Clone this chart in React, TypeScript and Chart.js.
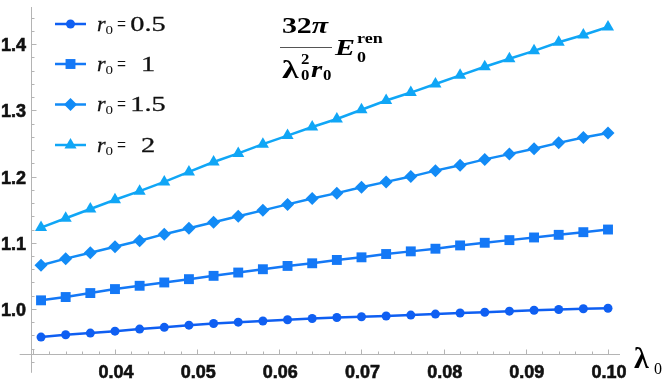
import React, { useEffect, useRef } from 'react';
import { Chart, registerables } from 'chart.js';
import { drawPoint } from 'chart.js/helpers';

Chart.register(...registerables);

// ---- data ----
const lambda0 = [
  0.031, 0.034, 0.037, 0.040, 0.043, 0.046, 0.049, 0.052, 0.055, 0.058, 0.061, 0.064,
  0.067, 0.070, 0.073, 0.076, 0.079, 0.082, 0.085, 0.088, 0.091, 0.094, 0.097, 0.100,
];
const r0_05 = [
  0.9575, 0.9610, 0.9635, 0.9664, 0.9695, 0.9722, 0.9755, 0.9780, 0.9800, 0.9818, 0.9837, 0.9855,
  0.9870, 0.9882, 0.9893, 0.9907, 0.9922, 0.9938, 0.9950, 0.9966, 0.9980, 0.9992, 1.0002, 1.0010,
];
const r0_1 = [
  1.013, 1.018, 1.024, 1.030, 1.035, 1.040, 1.045, 1.050, 1.055, 1.060, 1.065, 1.069,
  1.074, 1.078, 1.083, 1.087, 1.091, 1.096, 1.100, 1.104, 1.108, 1.112, 1.116, 1.120,
];
const r0_15 = [
  1.066, 1.076, 1.085, 1.094, 1.103, 1.113, 1.122, 1.131, 1.140, 1.149, 1.158, 1.167,
  1.175, 1.184, 1.192, 1.200, 1.209, 1.217, 1.226, 1.234, 1.242, 1.251, 1.259, 1.266,
];
const r0_2 = [
  1.123, 1.137, 1.151, 1.165, 1.178, 1.192, 1.207, 1.222, 1.235, 1.249, 1.262, 1.275,
  1.287, 1.301, 1.315, 1.327, 1.340, 1.353, 1.366, 1.378, 1.390, 1.403, 1.414, 1.426,
];
const seriesValues = ['0.5', '1', '1.5', '2'];
const xTickValues = [0.04, 0.05, 0.06, 0.07, 0.08, 0.09, 0.10];
const xTickLabels = ['0.04', '0.05', '0.06', '0.07', '0.08', '0.09', '0.10'];
const yTickValues = [1.0, 1.1, 1.2, 1.3, 1.4];
const yTickLabels = ['1.0', '1.1', '1.2', '1.3', '1.4'];

// ---- styles ----
const COLORS = ['#0f5ff2', '#1478f6', '#128bf6', '#10a6f6'];
const POINT_STYLES = ['circle', 'rect', 'rectRot', 'triangle'];
const POINT_RADII = [4.5, 7, 6.5, 7];
const AXIS_COLOR = '#b4b4b4';
const TICK_FONT = 'bold 18px "Liberation Sans", Arial, sans-serif';
const SERIF = '"Liberation Serif", "Times New Roman", serif';

const X_MIN = 0.02978, X_MAX = 0.10146;
const Y_MIN = 0.9319, Y_MAX = 1.4563;
const X_AXIS_FROM = 0.0284;
const Y_AXIS_FROM = 0.9035;

function txt(ctx: CanvasRenderingContext2D, s: string, x: number, y: number, font: string, sx = 1, align = 'left', stroke = 0) {
  ctx.save();
  ctx.font = font;
  const w = ctx.measureText(s).width * sx;
  let left = x;
  if (align === 'center') left = x - w / 2;
  else if (align === 'right') left = x - w;
  ctx.translate(left, y);
  ctx.scale(sx, 1);
  ctx.textAlign = 'left';
  ctx.textBaseline = 'alphabetic';
  ctx.fillText(s, 0, 0);
  if (stroke > 0) {
    ctx.strokeStyle = ctx.fillStyle as string;
    ctx.lineWidth = stroke;
    ctx.strokeText(s, 0, 0);
  }
  ctx.restore();
  return w;
}

const overlayPlugin = {
  id: 'mmaOverlay',
  beforeDatasetsDraw(chart: any) {
    const { ctx, scales } = chart;
    const xs = scales.x, ys = scales.y;
    const axX = Math.round(xs.getPixelForValue(X_MIN)) + 0.5;
    const axY = Math.round(ys.getPixelForValue(Y_MIN)) + 0.5;
    ctx.save();
    ctx.strokeStyle = AXIS_COLOR;
    ctx.lineWidth = 1;
    ctx.beginPath();
    ctx.moveTo(xs.getPixelForValue(X_AXIS_FROM), axY);
    ctx.lineTo(xs.getPixelForValue(X_MAX), axY);
    ctx.moveTo(axX, ys.getPixelForValue(Y_MAX));
    ctx.lineTo(axX, ys.getPixelForValue(Y_AXIS_FROM));
    ctx.stroke();
    ctx.beginPath();
    for (let k = 15; k <= 50; k++) {
      const v = k * 0.002;
      const major = k % 5 === 0;
      const px = Math.round(xs.getPixelForValue(v)) + 0.5;
      ctx.moveTo(px, axY);
      ctx.lineTo(px, axY - (major ? 5 : 3));
    }
    for (let k = 46; k <= 72; k++) {
      const v = k * 0.02;
      const major = k % 5 === 0;
      const py = Math.round(ys.getPixelForValue(v)) + 0.5;
      ctx.moveTo(axX, py);
      ctx.lineTo(axX + (major ? 5 : 3), py);
    }
    ctx.stroke();
    ctx.restore();
  },
  afterDatasetsDraw(chart: any) {
    const { ctx, scales } = chart;
    const xs = scales.x, ys = scales.y;
    ctx.save();
    ctx.fillStyle = '#111';
    xTickValues.forEach((v, i) => {
      txt(ctx, xTickLabels[i], xs.getPixelForValue(v) + 1, 378, TICK_FONT, 1, 'center', 0.6);
    });
    yTickValues.forEach((v, i) => {
      txt(ctx, yTickLabels[i], 26, ys.getPixelForValue(v) + 7, TICK_FONT, 1, 'right', 0.6);
    });
    ctx.fillStyle = '#000';
    txt(ctx, 'λ', 634, 368, `bold 30px ${SERIF}`);
    txt(ctx, '0', 654, 374, `16px ${SERIF}`);

    // legend
    const legY = [24, 64, 104.5, 145];
    chart.data.datasets.forEach((ds: any, i: number) => {
      const my = legY[i];
      ctx.save();
      ctx.strokeStyle = ds.borderColor;
      ctx.lineWidth = 2.5;
      ctx.beginPath();
      ctx.moveTo(55, my);
      ctx.lineTo(86, my);
      ctx.stroke();
      ctx.fillStyle = ds.backgroundColor;
      drawPoint(ctx, { pointStyle: ds.pointStyle, radius: ds.pointRadius, rotation: 0, borderWidth: 0 }, 70.5, my);
      ctx.restore();
      ctx.fillStyle = '#111';
      txt(ctx, 'r', 97, my + 6.5, `italic 22px ${SERIF}`, 1, 'left', 0.3);
      txt(ctx, '0', 105.5, my + 9.5, `12px ${SERIF}`, 1.25);
      txt(ctx, '=', 117, my + 6.5, `20px ${SERIF}`, 0.8);
      txt(ctx, ds.label, 148, my + 6.7, `21px ${SERIF}`, 1.35, 'center', 0.3);
    });

    // title formula: (32π / (λ0² r0)) E0^ren
    ctx.fillStyle = '#000';
    const bold = `bold 23px ${SERIF}`;
    const boldIt = `italic bold 23px ${SERIF}`;
    ctx.save();
    ctx.font = bold;
    const sx = 1.3;
    const w32 = ctx.measureText('32').width * sx;
    ctx.font = boldIt;
    const wpi = ctx.measureText('π').width * sx;
    ctx.restore();
    const numLeft = 305 - (w32 + wpi) / 2;
    txt(ctx, '32', numLeft, 33, bold, sx);
    txt(ctx, 'π', numLeft + w32, 33, boldIt, sx);
    ctx.save();
    ctx.strokeStyle = '#555';
    ctx.lineWidth = 1.2;
    ctx.beginPath();
    ctx.moveTo(280, 47.5);
    ctx.lineTo(332, 47.5);
    ctx.stroke();
    ctx.restore();
    txt(ctx, 'λ', 282, 78, `bold 26px ${SERIF}`, 1.3);
    txt(ctx, '2', 301, 64, `bold 14px ${SERIF}`, 1.2);
    txt(ctx, '0', 301, 80, `bold 14px ${SERIF}`, 1.2);
    txt(ctx, 'r', 311, 77, `italic bold 24px ${SERIF}`, 1.2);
    txt(ctx, '0', 323, 80, `bold 14px ${SERIF}`, 1.2);
    txt(ctx, 'E', 335, 55, `italic bold 24px ${SERIF}`, 1.25);
    txt(ctx, 'ren', 357, 43, `bold 15px ${SERIF}`, 1.2);
    txt(ctx, '0', 357, 62, `bold 15px ${SERIF}`, 1.2);
    ctx.restore();
  },
};

export default function App() {
  const canvasRef = useRef<HTMLCanvasElement | null>(null);

  useEffect(() => {
    const canvas = canvasRef.current;
    if (!canvas) return;
    const series = [r0_05, r0_1, r0_15, r0_2];
    const chart = new Chart(canvas, {
      type: 'line',
      data: {
        datasets: series.map((vals, i) => ({
          label: seriesValues[i],
          data: lambda0.map((x, j) => ({ x, y: vals[j] })),
          borderColor: COLORS[i],
          backgroundColor: COLORS[i],
          pointBackgroundColor: COLORS[i],
          pointBorderWidth: 0,
          pointStyle: POINT_STYLES[i],
          pointRadius: POINT_RADII[i],
          borderWidth: 2.5,
          tension: 0,
          clip: false,
        })),
      },
      options: {
        responsive: false,
        animation: false,
        devicePixelRatio: 1,
        layout: { padding: { left: 31, right: 44, top: 0, bottom: 26 } },
        plugins: { legend: { display: false }, tooltip: { enabled: false }, title: { display: false } },
        scales: {
          x: { type: 'linear', min: X_MIN, max: X_MAX, display: false },
          y: { type: 'linear', min: Y_MIN, max: Y_MAX, display: false },
        },
        events: [],
      },
      plugins: [overlayPlugin],
    } as any);
    return () => chart.destroy();
  }, []);

  return (
    <div style={{ position: 'fixed', left: 0, top: 0, width: 664, height: 380, background: '#fff' }}>
      <canvas ref={canvasRef} width={664} height={380} style={{ display: 'block' }} />
    </div>
  );
}
